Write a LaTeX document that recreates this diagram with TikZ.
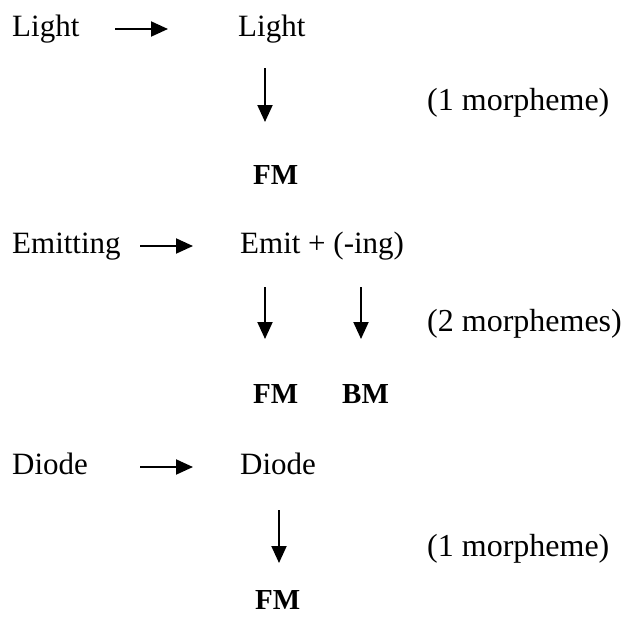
\documentclass[tikz,border=0pt]{standalone}
\usepackage{fontspec}
\setmainfont{Liberation Serif}
\usetikzlibrary{arrows.meta,calc}
\begin{document}
\begin{tikzpicture}[x=1pt,y=-1pt,
  word/.style={anchor=base west,inner sep=0pt,font=\fontsize{31}{37}\selectfont},
  note/.style={anchor=base west,inner sep=0pt,font=\fontsize{32}{38}\selectfont},
  unit/.style={anchor=base west,inner sep=0pt,font=\fontsize{29}{35}\selectfont\bfseries},
  arr/.style={line width=2pt,-{Triangle[length=17pt,width=15pt]}}]
\useasboundingbox (0,0) rectangle (626,627);

% Light
\node[word] (l1) at (12,36) {Light};
\node[word] (r1) at (238,36) {Light};
\node[note] (c1) at (427,110) {(1 morpheme)};
\node[unit] (f1) at (253,184) {FM};
\draw[arr] ($(l1.base west)+(103,-7)$) -- ($(r1.base west)+(-70,-7)$);
\coordinate (d1s) at (265,68);
\coordinate (d1e) at (265,122);
\draw[arr] (d1s) -- (d1e);

% Emitting
\node[word] (l2) at (12,253) {Emitting};
\node[word] (r2) at (240,253) {Emit + (-ing)};
\node[note] (c2) at (427,331) {(2 morphemes)};
\node[unit] (f2) at (253,403) {FM};
\node[unit] (b2) at (342,403) {BM};
\draw[arr] ($(l2.base west)+(128,-7)$) -- ($(r2.base west)+(-47,-7)$);
\coordinate (d2s) at (265,287);
\coordinate (d2e) at (265,339);
\coordinate (d3s) at (361,287);
\coordinate (d3e) at (361,339);
\draw[arr] (d2s) -- (d2e);
\draw[arr] (d3s) -- (d3e);

% Diode
\node[word] (l3) at (12,474) {Diode};
\node[word] (r3) at (240,474) {Diode};
\node[note] (c3) at (427,556) {(1 morpheme)};
\node[unit] (f3) at (255,609) {FM};
\draw[arr] ($(l3.base west)+(128,-7)$) -- ($(r3.base west)+(-47,-7)$);
\coordinate (d4s) at (279,510);
\coordinate (d4e) at (279,563);
\draw[arr] (d4s) -- (d4e);
\end{tikzpicture}
\end{document}
